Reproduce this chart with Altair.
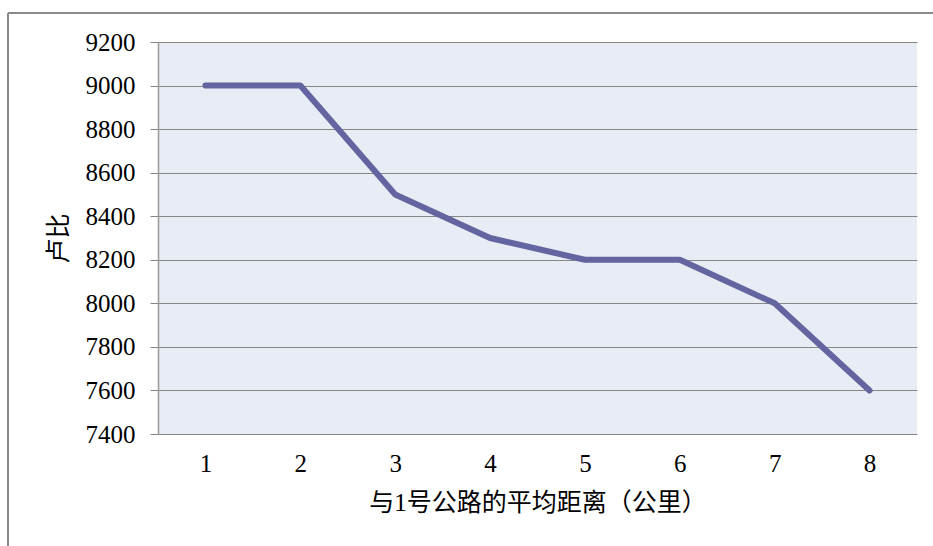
import altair as alt
import pandas as pd

distance = [1, 2, 3, 4, 5, 6, 7, 8]
rupee = [9000, 9000, 8500, 8300, 8200, 8200, 8000, 7600]
y_ticks = [7400, 7600, 7800, 8000, 8200, 8400, 8600, 8800, 9000, 9200]

df = pd.DataFrame({"d": distance, "v": rupee})

W, H = 759, 392
FONT = "'Liberation Serif', 'Noto Sans CJK SC', serif"

line = alt.Chart(df).mark_line(
    color="#6464A0", strokeWidth=6, strokeCap="round", strokeJoin="round"
).encode(
    x=alt.X("d:Q", scale=alt.Scale(domain=[0.5, 8.5], nice=False),
            axis=alt.Axis(values=distance, title="与1号公路的平均距离（公里）",
                          grid=False, ticks=False, domain=False,
                          labelPadding=17, titlePadding=14, format="d")),
    y=alt.Y("v:Q", scale=alt.Scale(domain=[7400, 9200], nice=False, zero=False),
            axis=alt.Axis(values=y_ticks, title="卢比", grid=True,
                          gridColor="#878787", gridWidth=1,
                          tickColor="#878787", tickSize=8,
                          domain=True, domainColor="#999999", domainWidth=1.5,
                          labelPadding=15, titlePadding=14, titleAngle=270,
                          format="d")),
)

# outer chart frame (left and top edges visible)
frame_left = alt.Chart(df).mark_rule(color="#8a8a8a", strokeWidth=1.5).encode(
    x=alt.value(-150), y=alt.value(-29), y2=alt.value(H + 200))
frame_top = alt.Chart(df).mark_rule(color="#8a8a8a", strokeWidth=1.5).encode(
    x=alt.value(-150), x2=alt.value(W + 40), y=alt.value(-29))

chart = alt.layer(frame_left, frame_top, line).properties(
    width=W, height=H,
    autosize=alt.AutoSizeParams(type="none"),
    padding={"left": 158, "top": 42, "right": 16, "bottom": 112},
    background="white",
).configure_view(
    fill="#E8ECF4", stroke=None
).configure_axis(
    labelFont=FONT, titleFont=FONT, labelFontSize=25, titleFontSize=25,
    labelColor="#000000", titleColor="#000000", titleFontWeight="normal",
)

chart.save("out.html", embed_options={"renderer": "svg", "actions": False})
